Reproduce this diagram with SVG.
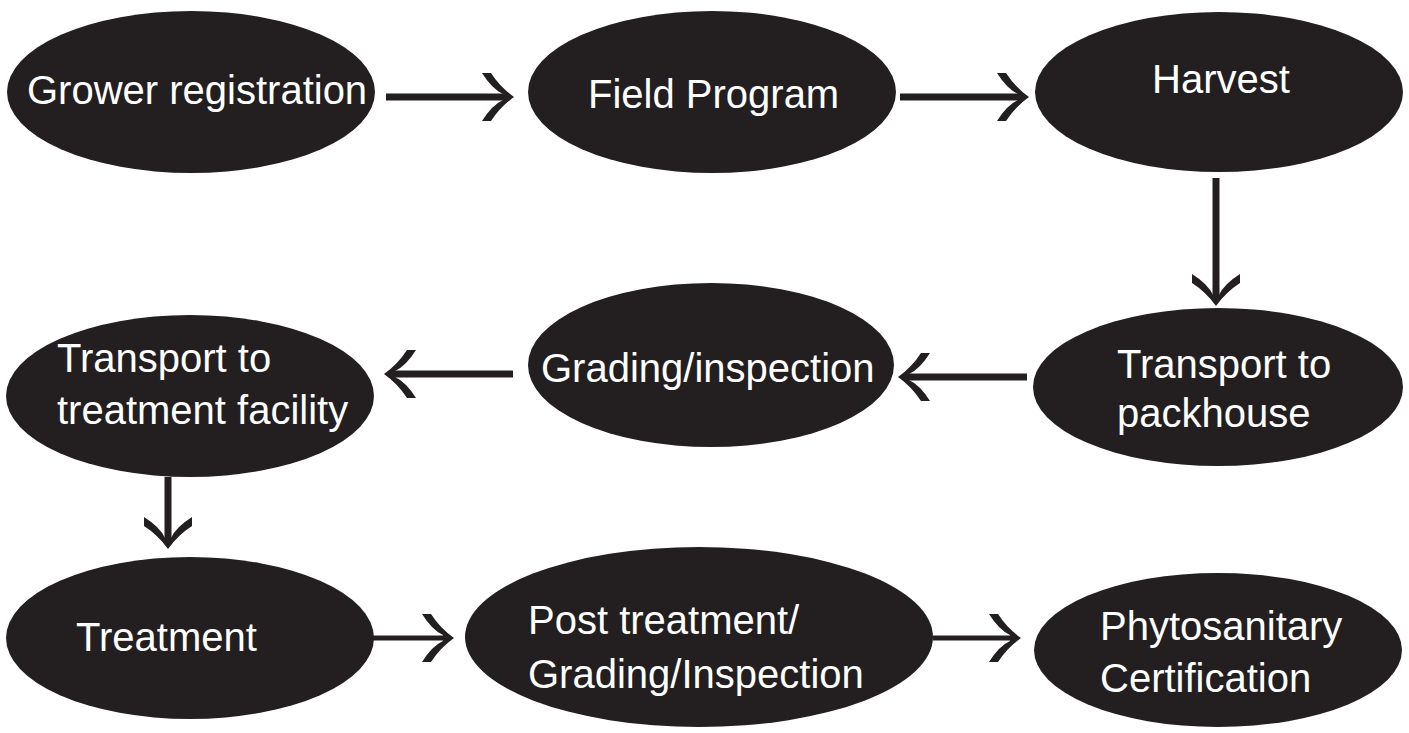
<svg xmlns="http://www.w3.org/2000/svg" xmlns:xlink="http://www.w3.org/1999/xlink" width="1409" height="733" viewBox="0 0 1409 733">
  <style>
    .node { fill: #231f20; }
    .label { fill: #ffffff; font-family: "Liberation Sans", Arial, sans-serif; font-size: 40px; }
    .conn { stroke: #231f20; stroke-width: 7; fill: none; }
    .conn.thin { stroke-width: 5; }
    .head { fill: #231f20; }
  </style>
  <defs>
    <path id="head" class="head" d="M 1,0 Q -13,-10 -22,-24 L -31,-24 Q -21,-8 -10,-3 L -10,3 Q -21,8 -31,24 L -22,24 Q -13,10 1,0 Z"/>
  </defs>
  <rect width="1409" height="733" fill="#ffffff"/>

  <g id="connectors">
    <line class="conn" x1="386" y1="97" x2="506" y2="97"/>
    <use xlink:href="#head" href="#head" transform="translate(513,97)"/>
    <line class="conn" x1="900" y1="97" x2="1021" y2="97"/>
    <use xlink:href="#head" href="#head" transform="translate(1028,97)"/>
    <line class="conn" x1="1216" y1="178" x2="1216" y2="298"/>
    <use xlink:href="#head" href="#head" transform="translate(1216,305) rotate(90)"/>
    <line class="conn" x1="1027" y1="377" x2="906" y2="377"/>
    <use xlink:href="#head" href="#head" transform="translate(899,377) rotate(180)"/>
    <line class="conn" x1="513" y1="374" x2="392" y2="374"/>
    <use xlink:href="#head" href="#head" transform="translate(385,374) rotate(180)"/>
    <line class="conn" x1="168" y1="477" x2="168" y2="541"/>
    <use xlink:href="#head" href="#head" transform="translate(168,548) rotate(90)"/>
    <line class="conn thin" x1="373" y1="638" x2="446" y2="638"/>
    <use xlink:href="#head" href="#head" transform="translate(453,638)"/>
    <line class="conn thin" x1="933" y1="638" x2="1013" y2="638"/>
    <use xlink:href="#head" href="#head" transform="translate(1020,638)"/>
  </g>

  <g id="grower-registration">
    <ellipse class="node" cx="191" cy="92" rx="184" ry="81"/>
    <text class="label" x="27" y="104">Grower registration</text>
  </g>
  <g id="field-program">
    <ellipse class="node" cx="712" cy="92" rx="184" ry="81"/>
    <text class="label" x="588" y="108">Field Program</text>
  </g>
  <g id="harvest">
    <ellipse class="node" cx="1219" cy="92" rx="184" ry="80"/>
    <text class="label" x="1152" y="93">Harvest</text>
  </g>
  <g id="transport-packhouse">
    <ellipse class="node" cx="1218" cy="387" rx="185" ry="79"/>
    <text class="label" x="1117" y="378">Transport to</text>
    <text class="label" x="1117" y="427">packhouse</text>
  </g>
  <g id="grading-inspection">
    <ellipse class="node" cx="711" cy="365" rx="183" ry="82"/>
    <text class="label" x="541" y="382">Grading/inspection</text>
  </g>
  <g id="transport-treatment">
    <ellipse class="node" cx="190" cy="396" rx="184" ry="81"/>
    <text class="label" x="57" y="372">Transport to</text>
    <text class="label" x="57" y="424">treatment facility</text>
  </g>
  <g id="treatment">
    <ellipse class="node" cx="190" cy="638" rx="184" ry="81"/>
    <text class="label" x="76" y="651">Treatment</text>
  </g>
  <g id="post-treatment">
    <ellipse class="node" cx="699" cy="637" rx="234" ry="90"/>
    <text class="label" x="528" y="634">Post treatment/</text>
    <text class="label" x="528" y="688">Grading/Inspection</text>
  </g>
  <g id="phytosanitary">
    <ellipse class="node" cx="1218" cy="650" rx="184" ry="77"/>
    <text class="label" x="1100" y="640">Phytosanitary</text>
    <text class="label" x="1100" y="692">Certification</text>
  </g>
</svg>
